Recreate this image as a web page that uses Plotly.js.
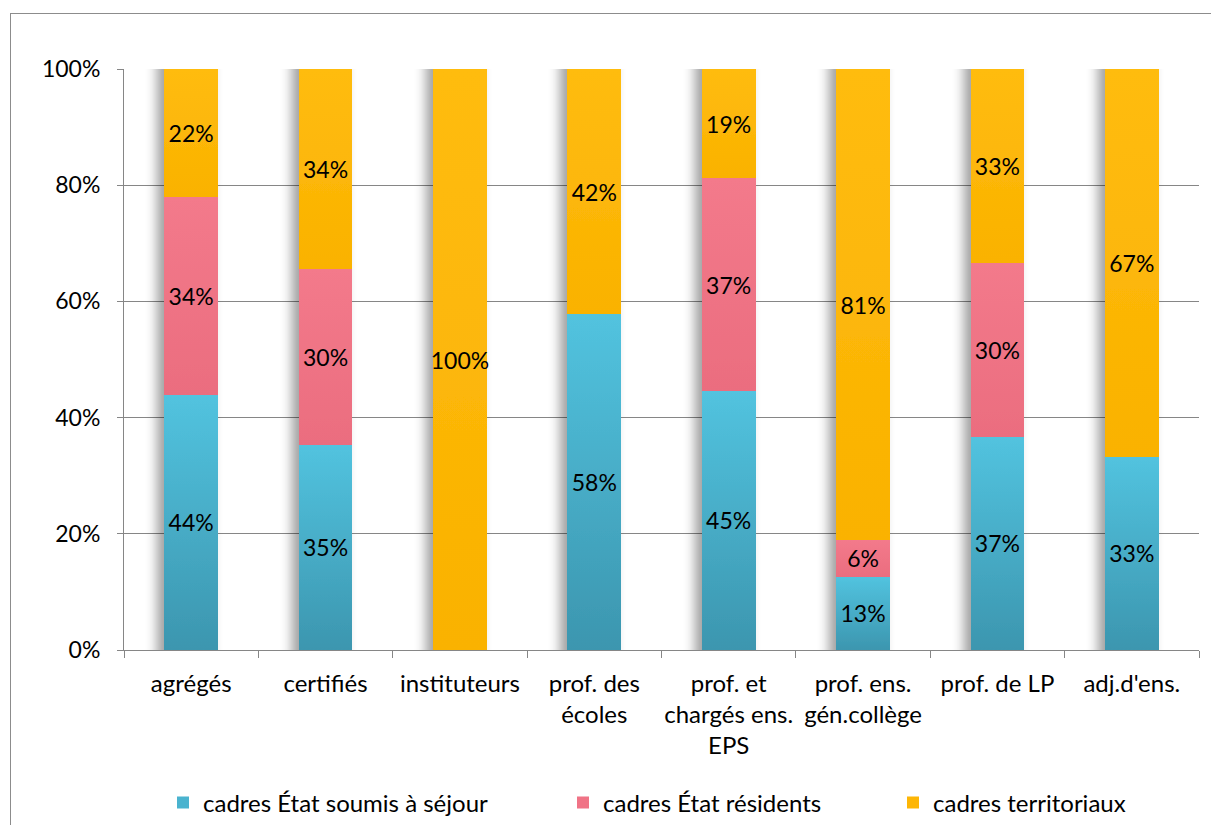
<!DOCTYPE html>
<html>
<head>
<meta charset="utf-8">
<script src="https://cdn.plot.ly/plotly-3.0.1.min.js"></script>
<style>
html,body{margin:0;padding:0;background:#fff;}
#wrap{position:relative;width:1211px;height:825px;overflow:hidden;}
#frame{position:absolute;left:10px;top:13px;width:1300px;height:900px;border:1px solid #8c8c8c;pointer-events:none;}
#chart{position:absolute;left:0;top:0;width:1211px;height:825px;}
</style>
</head>
<body>
<div id="wrap"><div id="chart"></div><div id="frame"></div></div>
<script>
const categories = ["agrégés","certifiés","instituteurs","prof. des<br>écoles","prof. et<br>chargés ens.<br>EPS","prof. ens.<br>gén.collège","prof. de LP","adj.d'ens."];
const seriesNames = ["cadres État soumis à séjour","cadres État résidents","cadres territoriaux"];
const sejour = [43.9, 35.3, 0, 57.8, 44.6, 12.6, 36.7, 33.3];
const residents = [34.1, 30.3, 0, 0, 36.6, 6.3, 29.9, 0];
const territoriaux = [22.0, 34.4, 100, 42.2, 18.8, 81.1, 33.4, 66.7];
const yTickVals = [0,20,40,60,80,100];
const yTickText = ["0%","20%","40%","60%","80%","100%"];
const colors = ["#4ab3cf","#f07386","#fdb606"];
const gradStops = [["#52c3df","#3c96af"],["#f37a8b","#eb6d7f"],["#ffbc10","#fab200"]];

const font = "Lato, 'Open Sans', sans-serif";
function lbl(arr){ return arr.map(v => v > 0 ? Math.round(v) + "%" : ""); }
const vals = [sejour, residents, territoriaux];
const legendIds = ["legend","legend2","legend3"];
const traces = vals.map((v,i) => ({
  type: "bar",
  name: seriesNames[i],
  legend: legendIds[i],
  x: categories,
  y: v,
  text: lbl(v),
  texttemplate: "%{text}",
  textposition: "inside",
  insidetextanchor: "middle",
  constraintext: "none",
  textangle: 0,
  textfont: {family: font, size: 23, color: "#000"},
  marker: {color: colors[i], line: {width: 0}},
  hoverinfo: "skip"
}));

const legFont = {family: font, size: 24, color: "#000"};
function leg(xpx){ return {orientation:"h", xref:"container", yref:"container", x:xpx/1211, xanchor:"left", y:1-803/825, yanchor:"middle", font:legFont, bgcolor:"rgba(0,0,0,0)", itemclick:false}; }

const layout = {
  width: 1211, height: 825,
  margin: {l:124, r:12, t:69, b:175},
  barmode: "stack",
  bargap: 0.6,
  paper_bgcolor: "rgba(0,0,0,0)",
  plot_bgcolor: "#fff",
  font: {family: font, size: 24, color: "#000"},
  xaxis: {
    type: "category",
    showgrid: false,
    showline: true, linecolor: "#868686", linewidth: 1,
    ticks: "outside", tickson: "boundaries", ticklen: 7, tickcolor: "#868686",
    tickangle: 0,
    ticklabelstandoff: 12,
    tickfont: {family: font, size: 24, color: "#000", lineposition: "none"},
    automargin: false
  },
  yaxis: {
    range: [0, 100],
    tickvals: yTickVals, ticktext: yTickText,
    showgrid: true, gridcolor: "#868686", gridwidth: 1,
    showline: true, linecolor: "#868686", linewidth: 1,
    ticks: "outside", ticklen: 6, tickcolor: "#868686",
    ticklabelstandoff: 12,
    tickfont: {family: font, size: 23, color: "#000"},
    zeroline: false,
    automargin: false
  },
  showlegend: true,
  legend: leg(163),
  legend2: leg(563),
  legend3: leg(893)
};

Plotly.newPlot("chart", traces, layout, {staticPlot: true, displayModeBar: false}).then(gd => {
  const NS = "http://www.w3.org/2000/svg";
  const svg = gd.querySelector(".main-svg");
  const defs = document.createElementNS(NS, "defs");
  gradStops.forEach((s, i) => {
    const g = document.createElementNS(NS, "linearGradient");
    g.setAttribute("id", "bgrad" + i);
    g.setAttribute("x1", "0"); g.setAttribute("y1", "0");
    g.setAttribute("x2", "0"); g.setAttribute("y2", "1");
    [[0, s[0]], [1, s[1]]].forEach(([o, c]) => {
      const st = document.createElementNS(NS, "stop");
      st.setAttribute("offset", o); st.setAttribute("stop-color", c);
      g.appendChild(st);
    });
    defs.appendChild(g);
  });
  const f = document.createElementNS(NS, "filter");
  f.setAttribute("id", "bshadow");
  f.setAttribute("x", "-60%"); f.setAttribute("y", "0%");
  f.setAttribute("width", "220%"); f.setAttribute("height", "100%");
  f.innerHTML = '<feGaussianBlur in="SourceAlpha" stdDeviation="6 0" result="b"/>' +
    '<feOffset in="b" dx="-7" dy="0" result="o"/>' +
    '<feComponentTransfer in="o" result="c"><feFuncA type="linear" slope="0.38"/></feComponentTransfer>' +
    '<feMerge><feMergeNode in="c"/><feMergeNode in="SourceGraphic"/></feMerge>';
  defs.appendChild(f);
  svg.insertBefore(defs, svg.firstChild);
  gd.querySelectorAll(".barlayer .trace").forEach((t, i) => {
    t.querySelectorAll(".point path").forEach(p => {
      p.style.fill = "url(#bgrad" + i + ")";
      p.setAttribute("filter", "url(#bshadow)");
    });
  });
});
</script>
</body>
</html>
